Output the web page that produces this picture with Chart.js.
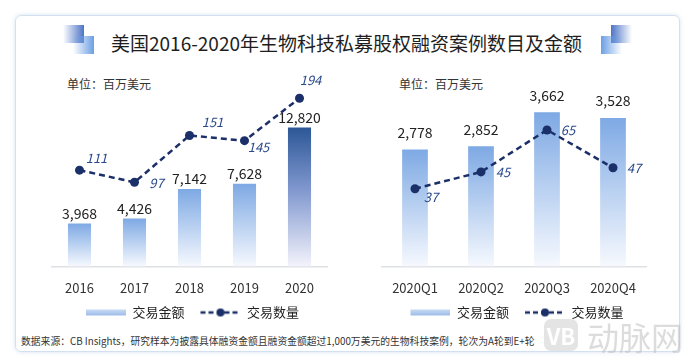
<!DOCTYPE html>
<html>
<head>
<meta charset="utf-8">
<script src="https://cdn.jsdelivr.net/npm/chart.js@4.4.0/dist/chart.umd.min.js"></script>
<style>
  body { margin: 0; width: 693px; height: 362px; background: #fff; position: relative; overflow: hidden;
         font-family: "Noto Sans CJK SC", sans-serif; color: #222; }
  .card { position: absolute; left: 15px; top: 15px; width: 663px; height: 335px;
          border: 1px solid #d3e0ef; border-radius: 6px; box-shadow: 0 0 4px rgba(120, 160, 210, .3); }
  .title { position: absolute; left: 0; top: 30px; width: 693px; text-align: center;
           font-size: 19px; line-height: 26px; color: #1e1e1e; }
  .ico { position: absolute; width: 31px; height: 29px; top: 25px; }
  .ico div { position: absolute; width: 21px; height: 18px; }
  .ico .a { left: 0; top: 0; background: linear-gradient(to right, rgba(80, 120, 205, 0), #4c74c6); }
  .ico .b { left: 10px; top: 11px; background: linear-gradient(to right, rgba(120, 170, 230, 0), #6c9fe4); }
  .unit { position: absolute; top: 75px; font-size: 12px; color: #333; }
  .note { position: absolute; left: 21px; top: 334px; font-size: 9.8px; color: #333; white-space: nowrap; }
  .mark { position: absolute; left: 544px; top: 319px; height: 34px; color: rgba(185, 185, 185, .5);
          font-size: 32px; line-height: 34px; white-space: nowrap; }
  .mark span.logo { display: inline-block; width: 34px; height: 32px; border-radius: 7px; background: rgba(195, 195, 195, .45);
          color: #fff; font-size: 22px; font-weight: bold; line-height: 32px; text-align: center; vertical-align: top; margin-right: 9px; }
  canvas { position: absolute; }
</style>
</head>
<body>
<div class="card"></div>
<div class="ico" style="left:63px"><div class="a"></div><div class="b"></div></div>
<div class="ico" style="left:601px;transform:scaleX(-1)"><div class="a"></div><div class="b"></div></div>
<div class="title">美国2016-2020年生物科技私募股权融资案例数目及金额</div>
<div class="unit" style="left:67px">单位：百万美元</div>
<div class="unit" style="left:399px">单位：百万美元</div>
<div style="position:absolute;left:40px;top:60px;width:300px;height:269px"><canvas id="yearChart"></canvas></div>
<div style="position:absolute;left:370px;top:60px;width:290px;height:269px"><canvas id="quarterChart"></canvas></div>
<div class="note">数据来源：CB Insights，研究样本为披露具体融资金额且融资金额超过1,000万美元的生物科技案例，轮次为A轮到E+轮</div>
<div class="mark"><span class="logo">VB</span>动脉网</div>

<script>
const years = ["2016", "2017", "2018", "2019", "2020"];
const yearAmounts = [3968, 4426, 7142, 7628, 12820];
const yearCounts = [111, 97, 151, 145, 194];

const quarters = ["2020Q1", "2020Q2", "2020Q3", "2020Q4"];
const quarterAmounts = [2778, 2852, 3662, 3528];
const quarterCounts = [37, 45, 65, 47];

const FONT = '"Noto Sans CJK SC", sans-serif';
const NAVY = "#1b2f69";

// legend swatches
function barSwatch() {
  const c = document.createElement("canvas");
  c.width = 46; c.height = 8;
  const g = c.getContext("2d");
  const grad = g.createLinearGradient(0, 1, 0, 7);
  grad.addColorStop(0, "#c9dbf3");
  grad.addColorStop(1, "#9dbce9");
  g.fillStyle = grad;
  g.fillRect(6, 1, 40, 6);
  return c;
}
function lineSwatch() {
  const c = document.createElement("canvas");
  c.width = 46; c.height = 12;
  const g = c.getContext("2d");
  g.strokeStyle = NAVY;
  g.lineWidth = 2.5;
  g.setLineDash([5, 3]);
  g.beginPath(); g.moveTo(6, 6); g.lineTo(46, 6); g.stroke();
  g.fillStyle = NAVY;
  g.beginPath(); g.arc(26, 6, 4, 0, Math.PI * 2); g.fill();
  return c;
}

function barFill(darkLast) {
  return function (c) {
    const chart = c.chart;
    const area = chart.chartArea;
    if (!area) return "#8fb3e6";
    const top = chart.scales.y.getPixelForValue(c.raw);
    const g = chart.ctx.createLinearGradient(0, top, 0, area.bottom);
    if (darkLast && c.dataIndex === c.dataset.data.length - 1) {
      g.addColorStop(0, "#2c5796");
      g.addColorStop(0.45, "#8198cf");
      g.addColorStop(1, "#f3f3fb");
    } else {
      g.addColorStop(0, "#7ea9e4");
      g.addColorStop(1, "#f6f9fe");
    }
    return g;
  };
}

const valueLabels = {
  id: "valueLabels",
  afterDatasetsDraw(chart, args, opts) {
    const ctx = chart.ctx;
    ctx.save();
    ctx.textAlign = "center";
    ctx.textBaseline = "middle";
    ctx.font = "14px " + FONT;
    ctx.fillStyle = "#222";
    const bars = chart.getDatasetMeta(0).data;
    bars.forEach((bar, i) => {
      ctx.fillText(chart.data.datasets[0].data[i].toLocaleString("en-US"), bar.x, bar.y - opts.barGap);
    });
    ctx.font = "italic 13px " + FONT;
    ctx.fillStyle = "#2b4a8c";
    const pts = chart.getDatasetMeta(1).data;
    pts.forEach((p, i) => {
      const o = opts.lineOffsets[i];
      ctx.fillText(String(chart.data.datasets[1].data[i]), p.x + o[0], p.y + o[1]);
    });
    ctx.restore();
  }
};

function makeChart(id, labels, amounts, counts, o) {
  return new Chart(document.getElementById(id), {
    type: "bar",
    data: {
      labels: labels,
      datasets: [
        {
          type: "bar",
          label: "交易金额",
          data: amounts,
          yAxisID: "y",
          backgroundColor: barFill(o.darkLast),
          categoryPercentage: 1,
          barPercentage: o.barPct,
          order: 2
        },
        {
          type: "line",
          label: "交易数量",
          data: counts,
          yAxisID: "y1",
          borderColor: NAVY,
          borderWidth: 2.5,
          borderDash: [6, 4],
          pointRadius: 4.5,
          pointBackgroundColor: NAVY,
          pointBorderWidth: 0,
          tension: 0,
          order: 1
        }
      ]
    },
    options: {
      responsive: true,
      maintainAspectRatio: false,
      animation: false,
      layout: { padding: { left: o.padL, right: o.padR, top: 33, bottom: 0 } },
      scales: {
        x: {
          offset: true,
          grid: { display: false, drawTicks: false },
          border: { color: "#dde1e6", width: 1.5 },
          ticks: { color: "#333", font: { family: FONT, size: 13 }, padding: 14 },
          afterFit: (s) => { s.height -= 14; }
        },
        y: { display: false, min: 0, max: o.barMax },
        y1: { display: false, min: 0, max: o.lineMax }
      },
      plugins: {
        tooltip: { enabled: false },
        legend: {
          position: "bottom",
          labels: {
            usePointStyle: true,
            pointStyleWidth: 46,
            padding: 10,
            color: "#222",
            font: { family: FONT, size: 13 },
            generateLabels: () => [
              { text: "交易金额", pointStyle: barSwatch(), fontColor: "#222", lineWidth: 0, datasetIndex: 0 },
              { text: "交易数量", pointStyle: lineSwatch(), fontColor: "#222", lineWidth: 0, datasetIndex: 1 }
            ]
          }
        },
        valueLabels: { barGap: o.barGap, lineOffsets: o.lineOffsets }
      }
    },
    plugins: [valueLabels]
  });
}

makeChart("yearChart", years, yearAmounts, yearCounts, {
  darkLast: true, barPct: 0.42, padL: 12, padR: 13, barMax: 16000, lineMax: 200, barGap: 10,
  lineOffsets: [[17, -12], [22, 1], [23, -13], [14, 6], [11, -18]]
});

makeChart("quarterChart", quarters, quarterAmounts, quarterCounts, {
  darkLast: false, barPct: 0.39, padL: 12, padR: 14, barMax: 4120, lineMax: 82.6, barGap: 17,
  lineOffsets: [[16, 8], [22, 0], [21, 0], [21, 0]]
});
</script>
</body>
</html>
